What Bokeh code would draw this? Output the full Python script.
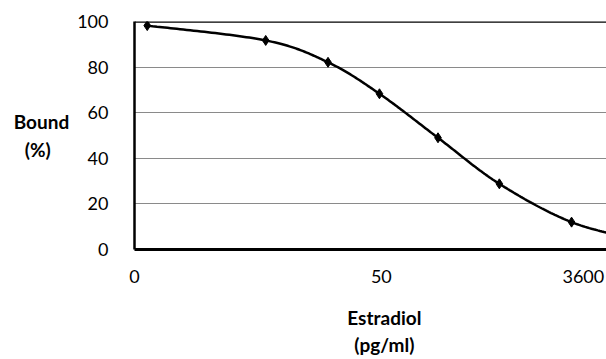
import numpy as np
from bokeh.plotting import figure
from bokeh.models import Range1d, FixedTicker, Span
from bokeh.embed import file_html
from bokeh.resources import INLINE

# Standard curve: position of each standard along the x axis and % bound
dose_pos = [0.27, 2.78, 4.10, 5.19, 6.43, 7.73, 9.26, 10.75]
bound_pct = [98.2, 91.7, 82.1, 68.3, 49.0, 28.8, 12.0, 4.0]

# Axis ticks
x_tick_pos = [0.0, 5.23, 9.51]
x_tick_labels = ["0", "50", "3600"]
y_ticks = [0, 20, 40, 60, 80, 100]

FONT = "Lato"
NBSP = "\u00a0"


def smooth_curve(xs, ys, n=40):
    """Catmull-Rom style smoothing through the points (as spreadsheet smoothed lines)."""
    xs = np.asarray(xs, float)
    ys = np.asarray(ys, float)
    px = np.concatenate([[xs[0]], xs, [xs[-1]]])
    py = np.concatenate([[ys[0]], ys, [ys[-1]]])
    out_x, out_y = [], []
    for i in range(1, len(px) - 2):
        p0 = np.array([px[i], py[i]])
        p3 = np.array([px[i + 1], py[i + 1]])
        c1 = p0 + (np.array([px[i + 1], py[i + 1]]) - np.array([px[i - 1], py[i - 1]])) / 6.0
        c2 = p3 - (np.array([px[i + 2], py[i + 2]]) - np.array([px[i], py[i]])) / 6.0
        t = np.linspace(0, 1, n)[:, None]
        pts = ((1 - t) ** 3) * p0 + 3 * ((1 - t) ** 2) * t * c1 + 3 * (1 - t) * t ** 2 * c2 + t ** 3 * p3
        out_x.extend(pts[:, 0])
        out_y.extend(pts[:, 1])
    return out_x, out_y


p = figure(
    width=606,
    height=359,
    x_range=Range1d(0, 10.0),
    y_range=Range1d(0, 100),
    output_backend="svg",
    toolbar_location=None,
    min_border_left=134,
    min_border_right=0,
    min_border_top=21,
    min_border_bottom=110,
)
p.outline_line_color = None
p.background_fill_color = "white"
p.border_fill_color = "white"

# grid
p.xgrid.grid_line_color = None
p.ygrid.ticker = FixedTicker(ticks=[20, 40, 60, 80])
p.ygrid.grid_line_color = "#8a8a8a"
p.ygrid.grid_line_width = 1.2

# axes
p.yaxis.ticker = FixedTicker(ticks=y_ticks)
p.xaxis.ticker = FixedTicker(ticks=x_tick_pos)
p.xaxis.major_label_overrides = {x: lab for x, lab in zip(x_tick_pos, x_tick_labels)}
for ax in (p.xaxis, p.yaxis):
    ax.axis_line_color = "black"
    ax.major_tick_line_color = None
    ax.minor_tick_line_color = None
    ax.major_label_text_font = FONT
    ax.major_label_text_font_size = "18px"
    ax.major_label_text_color = "black"
    ax.axis_label_text_font = FONT
    ax.axis_label_text_font_size = "19px"
    ax.axis_label_text_font_style = "bold"
    ax.axis_label_text_color = "black"
p.yaxis.axis_line_width = 2.5
p.xaxis.axis_line_width = 3
p.yaxis.major_label_standoff = 20
p.xaxis.major_label_standoff = 14

# axis titles (non-breaking spaces nudge the lines sideways)
p.xaxis.axis_label = NBSP * 6 + "Estradiol\n" + NBSP * 6 + "(pg/ml)"
p.xaxis.axis_label_standoff = 20
p.yaxis.axis_label = "Bound\n(%)" + NBSP * 4
p.yaxis.axis_label_orientation = "horizontal"
p.yaxis.axis_label_standoff = 5

# top border line
p.add_layout(Span(location=100, dimension="width", line_color="black", line_width=2.5))

# smoothed curve and markers
cx, cy = smooth_curve(dose_pos, bound_pct)
p.line(cx, cy, line_color="black", line_width=2.5)
p.scatter(dose_pos, bound_pct, marker="diamond", size=10, color="black")

open("out.html", "w").write(file_html(p, INLINE))
